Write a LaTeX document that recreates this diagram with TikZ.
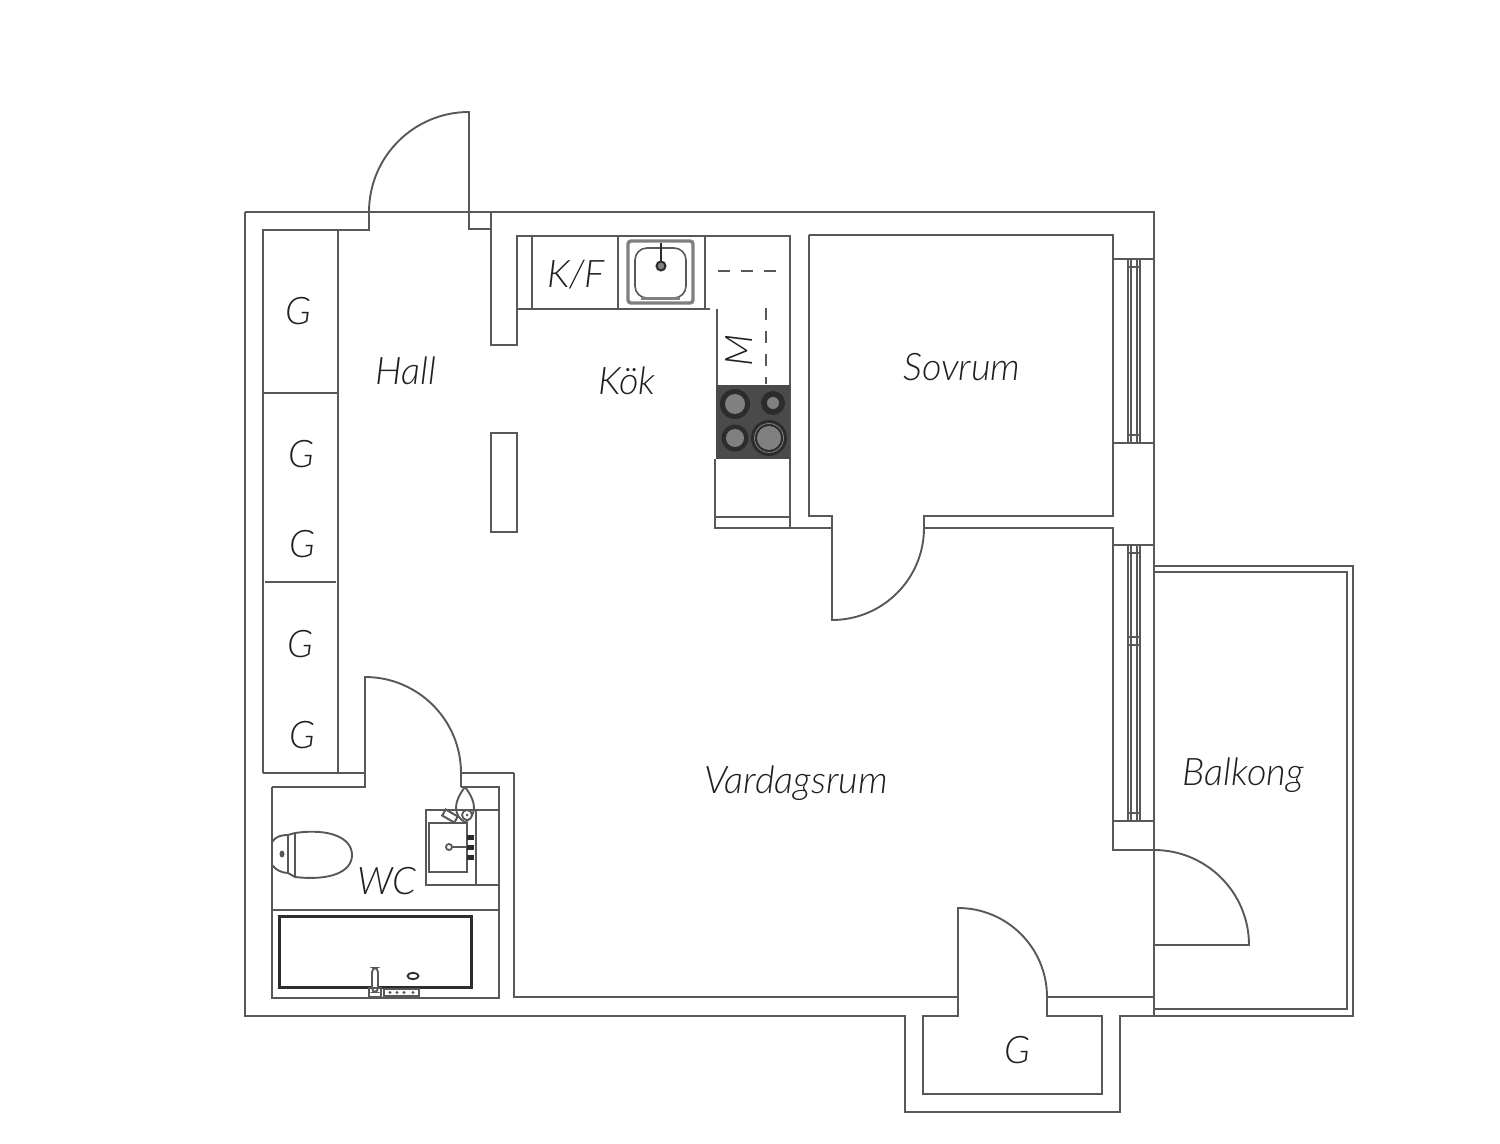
\documentclass[tikz,border=0pt]{standalone}
\usepackage{fontspec}
\setmainfont{Lato}[ItalicFont={Lato Light Italic}]
\definecolor{wall}{HTML}{585858}
\definecolor{hob}{HTML}{4A4A4A}
\definecolor{ring}{HTML}{2C2C2C}
\definecolor{plate}{HTML}{808080}
\definecolor{ink}{HTML}{202020}
\tikzset{
  wallline/.style={draw=wall,line width=0.95pt,line join=miter},
  thinline/.style={draw=wall,line width=0.7pt},
  thickline/.style={draw=ring,line width=1.5pt},
  dashline/.style={draw=wall,line width=0.8pt,dash pattern=on 6pt off 5.5pt},
  lab/.style={font=\fontsize{19pt}{22pt}\selectfont\itshape,text=ink,inner sep=0pt},
  plateouter/.style={fill=ring},
  platefill/.style={fill=plate},
}
\begin{document}
\begin{tikzpicture}[x=0.5pt,y=-0.5pt]
\useasboundingbox (0,0) rectangle (1500,1144);
% outer walls
\path[wallline] (245,212) -- (1154,212) -- (1154,1016);
\path[wallline] (245,212) -- (245,1016) -- (905,1016) -- (905,1112) -- (1120,1112) -- (1120,1016) -- (1154,1016);
% entrance door and hall
\path[wallline] (263,773) -- (263,230) -- (369,230) -- (369,212) arc[start angle=180,end angle=90,radius=50pt] -- (469,229) -- (491,229);
\path[wallline] (491,212) -- (491,345) -- (517,345) -- (517,236) -- (790,236) -- (790,528);
\path[wallline] (491,433) rectangle (517,532);
% wardrobes
\path[wallline] (338,231) -- (338,773);
\path[wallline] (263,393) -- (338,393);
\path[wallline] (265,582) -- (336,582);
\path[wallline] (263,773) -- (365,773);
% kitchen
\path[wallline] (517,309) -- (710,309);
\path[wallline] (532,236) -- (532,309);
\path[wallline] (618,236) -- (618,309);
\path[wallline] (705,236) -- (705,309);
\path[wallline] (717,309) -- (717,385);
\path[wallline] (715,459) -- (715,528) -- (832,528);
\path[wallline] (715,517) -- (790,517);
\path[dashline] (718,271) -- (779,271);
\path[dashline] (766,308) -- (766,384);
% sink
\path[draw=plate,line width=1.7pt,rounded corners=1.5pt] (628,241) rectangle (693,303);
\path[draw=wall,line width=0.8pt,rounded corners=6pt] (635,248) rectangle (686,298);
\path[draw=plate,line width=1.4pt] (641,298.5) -- (680,298.5);
\path[draw=ring,line width=1.3pt] (661,243) -- (661,262);
\path[draw=ring,line width=1pt,fill=plate] (661,266) circle[radius=4.5];
% hob
\path[fill=hob] (716,385) rectangle (790,459);
\path[plateouter] (735,404) circle[radius=15];
\path[platefill] (735,404) circle[radius=10];
\path[plateouter] (773,403) circle[radius=12];
\path[platefill] (773,403) circle[radius=6];
\path[plateouter] (735,438) circle[radius=13.5];
\path[platefill] (735,438) circle[radius=9];
\path[plateouter] (769,438) circle[radius=18];
\path[platefill] (769,438) circle[radius=12];
\path[draw=plate,line width=0.4pt] (769,438) circle[radius=14.5];
% bedroom and its door
\path[wallline] (809,235) -- (1113,235) -- (1113,516) -- (924,516) -- (924,528);
\path[wallline] (809,235) -- (809,516) -- (832,516) -- (832,620) arc[start angle=270,end angle=360,radius=46pt] ;
\path[wallline] (924,528) -- (1113,528) -- (1113,850) -- (1154,850);
% windows
\path[wallline] (1113,259) -- (1154,259);
\path[wallline] (1113,443) -- (1154,443);
\path[wallline] (1113,545) -- (1154,545);
\path[wallline] (1113,821) -- (1154,821);
\foreach \wx in {1128,1131,1137,1140}{
  \path[thinline] (\wx,259) -- (\wx,443);
  \path[thinline] (\wx,545) -- (\wx,821);
}
\foreach \wy in {267,435,553,637,645,813}{
  \path[thinline] (1128,\wy) -- (1140,\wy);
}
% balcony
\path[wallline] (1154,566) -- (1353,566) -- (1353,1016) -- (1154,1016);
\path[wallline] (1154,572) -- (1347,572) -- (1347,1009) -- (1154,1009);
\path[wallline] (1154,850) arc[start angle=90,end angle=0,radius=47.5pt] -- (1154,945);
% storage door
\path[wallline] (514,773) -- (514,997) -- (958,997);
\path[wallline] (923,1016) -- (958,1016) -- (958,908) arc[start angle=90,end angle=0,radius=44.5pt] -- (1047,1016) -- (1102,1016) -- (1102,1094) -- (923,1094) -- cycle;
\path[wallline] (1047,997) -- (1154,997);
% WC walls and door
\path[wallline] (272,787) -- (365,787) -- (365,677) arc[start angle=90,end angle=0,radius=48pt] -- (461,787);
\path[wallline] (461,773) -- (514,773);
\path[wallline] (461,787) -- (499,787) -- (499,998) -- (272,998) -- (272,787);
\path[wallline] (272,910) -- (499,910);
% bath
\path[thickline] (279,916) rectangle (471,987);
\path[draw=wall,line width=0.9pt,fill=white,rounded corners=2pt] (372,968) rectangle (378,992);
\path[draw=wall,line width=0.8pt] (369,988) rectangle (381,997);
\path[draw=wall,line width=0.8pt] (384,989) rectangle (419,996);
\foreach \bx in {390,397,404,413}{
  \path[fill=wall] (\bx,992.5) circle[radius=1.7];
}
\path[draw=ring,line width=0.9pt] (413,976) ellipse[x radius=5.5,y radius=3.2];
% toilet
\path[wallline] (272,842) .. controls (276,836) and (282,835) .. (288,835) -- (288,873) .. controls (282,873) and (276,870) .. (272,865);
\path[wallline] (288,835) -- (295,833) .. controls (330,828) and (352,838) .. (352,855) .. controls (352,872) and (330,881) .. (295,877) -- (288,873);
\path[wallline] (295,833) -- (295,877);
\path[fill=wall] (282,854) ellipse[x radius=2.5,y radius=3.5];
% basin
\path[wallline] (476,885) -- (426,885) -- (426,810) -- (499,810);
\path[wallline] (476,810) -- (476,885);
\path[wallline] (499,885) -- (476,885);
\path[wallline] (467,823) -- (429,823) -- (429,872) -- (467,872) -- cycle;
\path[draw=wall,line width=1.2pt] (452,847) -- (471,847);
\path[draw=wall,line width=0.9pt,fill=white] (449,847) circle[radius=3];
\path[fill=ring] (467,835) rectangle (474,840);
\path[fill=ring] (467,845) rectangle (474,850);
\path[fill=ring] (467,855) rectangle (474,860);
\path[wallline] (465,787) .. controls (458,796) and (456,803) .. (456,808) .. controls (456,814) and (460,820) .. (465,822) .. controls (470,820) and (474,814) .. (474,808) .. controls (474,803) and (472,796) .. (465,787);
\path[draw=wall,line width=1pt,fill=white,rotate around={-30:(450,816)}] (443,812.5) rectangle (457,819.5);
\path[draw=wall,line width=0.9pt,fill=white] (467,815) circle[radius=5];
\path[fill=wall] (467,815) circle[radius=1.5];
% labels
\node[lab] (g1) at (298,311) {G};
\node[lab] (g2) at (301,454) {G};
\node[lab] (g3) at (302,544) {G};
\node[lab] (g4) at (300,644) {G};
\node[lab] (g5) at (302,735) {G};
\node[lab] (g6) at (1017,1050) {G};
\node[lab] (hall) at (406,371) {Hall};
\node[lab] (kok) at (627,381) {Kök};
\node[lab] (kf) at (576,275) {K/F};
\node[lab,rotate=90] (m) at (739,350) {M};
\node[lab] (sov) at (962,367) {Sovrum};
\node[lab] (var) at (796,783) {Vardagsrum};
\node[lab] (bal) at (1243,775) {Balkong};
\node[lab] (wc) at (387,881) {WC};
\end{tikzpicture}
\end{document}
